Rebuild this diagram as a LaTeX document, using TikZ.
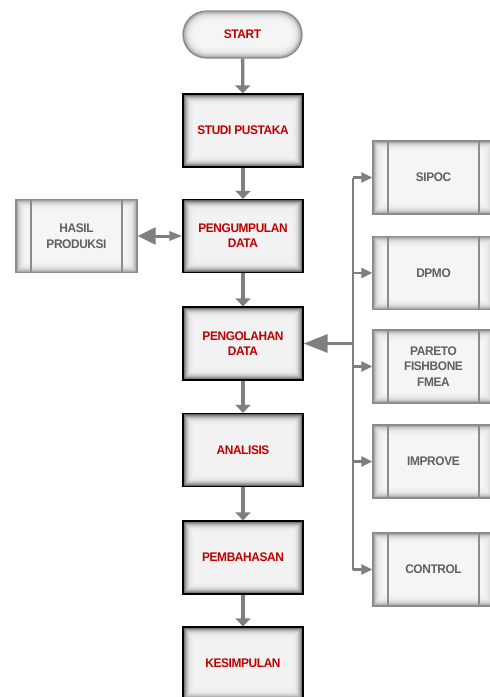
\documentclass[tikz,border=0pt]{standalone}
\usepackage{fontspec}
\newfontfamily\lab[FakeStretch=0.95,LetterSpace=-3]{Liberation Sans}
\usetikzlibrary{arrows.meta}
\definecolor{txtred}{HTML}{C00000}
\definecolor{txtgray}{HTML}{606060}
\definecolor{arrgray}{HTML}{7F7F7F}
\definecolor{sideborder}{HTML}{8C8C8C}
\tikzset{
  mainbox/.style={rectangle, draw=black, line width=1.3pt, minimum width=120pt, minimum height=73pt,
    inner sep=0pt, align=center, text=txtred, font=\lab\bfseries\fontsize{12.5}{15}\selectfont,
    path picture={
      \foreach \d/\w in {0/35,1/48,2/60,3/70,4/78,5/84,6/88,7/91,8/93,10/94.5,12/95} {
        \fill[white!\w!black, rounded corners=1pt]
          ([shift={(\d pt,\d pt)}]path picture bounding box.south west) rectangle
          ([shift={(-\d pt,-\d pt)}]path picture bounding box.north east);
      }}},
  sidebox/.style={rectangle, draw=sideborder, line width=1.3pt, minimum width=121pt, minimum height=73pt,
    inner sep=0pt, align=center, text=txtgray, font=\lab\bfseries\fontsize{12.5}{15.5}\selectfont,
    path picture={
      \foreach \d/\w in {0/60,1/70,2/77,3/83,4/87,5/90,6/92.5,8/94.5,10/96} {
        \fill[white!\w!black, rounded corners=1pt]
          ([shift={(\d pt,\d pt)}]path picture bounding box.south west) rectangle
          ([shift={(-\d pt,-\d pt)}]path picture bounding box.north east);
      }
      \draw[sideborder, line width=1.2pt]
        ([xshift=15pt]path picture bounding box.south west) -- ([xshift=15pt]path picture bounding box.north west);
      \draw[sideborder, line width=1.2pt]
        ([xshift=-15pt]path picture bounding box.south east) -- ([xshift=-15pt]path picture bounding box.north east);
    }},
  startbox/.style={rectangle, rounded corners=23.5pt, draw=sideborder, line width=1.3pt,
    minimum width=119pt, minimum height=47pt, inner sep=0pt, text=txtred,
    font=\lab\bfseries\fontsize{12.5}{15}\selectfont,
    path picture={
      \foreach \d/\w in {0/60,1/70,2/77,3/83,4/87,5/90,6/92.5,8/94.5,10/96} {
        \pgfmathsetmacro\rr{23.5-\d}
        \fill[white!\w!black, rounded corners=\rr pt]
          ([shift={(\d pt,\d pt)}]path picture bounding box.south west) rectangle
          ([shift={(-\d pt,-\d pt)}]path picture bounding box.north east);
      }}},
  mainarrow/.style={draw=arrgray, line width=3.3pt, -{Triangle[length=8pt,width=15pt]}},
  busline/.style={draw=arrgray, line width=2.4pt},
  busarrow/.style={draw=arrgray, line width=2.4pt, -{Triangle[length=11pt,width=10pt]}},
  bigarrow/.style={draw=arrgray, line width=3pt, -{Triangle[length=24pt,width=18pt]}},
  dblarrow/.style={draw=arrgray, line width=3pt, {Triangle[length=18pt,width=17pt]}-{Triangle[length=13pt,width=9pt]}},
}
\begin{document}
\begin{tikzpicture}[x=1pt,y=1pt]
\useasboundingbox (0,0) rectangle (490,-697);
\clip (0,0) rectangle (490,-697);
\fill[white] (0,0) rectangle (490,-697);

\node[startbox] (start) at (242.5,-34.5) {START};
\node[mainbox] (studi) at (243,-130.5) {STUDI PUSTAKA};
\node[mainbox] (kumpul) at (243,-236) {PENGUMPULAN\\DATA};
\node[mainbox] (olah) at (243,-343.5) {PENGOLAHAN\\DATA};
\node[mainbox] (analisis) at (243,-450) {ANALISIS};
\node[mainbox] (bahas) at (243,-557.5) {PEMBAHASAN};
\node[mainbox] (simpul) at (243,-663.5) {KESIMPULAN};

\node[sidebox] (hasil) at (76.5,-236) {HASIL\\PRODUKSI};
\node[sidebox] (sipoc) at (433.5,-177.5) {SIPOC};
\node[sidebox] (dpmo) at (433.5,-273) {DPMO};
\node[sidebox] (pareto) at (433.5,-366.5) {PARETO\\FISHBONE\\FMEA};
\node[sidebox] (improve) at (433.5,-461.5) {IMPROVE};
\node[sidebox] (control) at (433.5,-569.5) {CONTROL};

\draw[mainarrow] (start) -- (studi);
\draw[mainarrow] (studi) -- (kumpul);
\draw[mainarrow] (kumpul) -- (olah);
\draw[mainarrow] (olah) -- (analisis);
\draw[mainarrow] (analisis) -- (bahas);
\draw[mainarrow] (bahas) -- (simpul);

\draw[dblarrow] (hasil.east) -- (kumpul.west);

\coordinate (busx) at (353,0);
\draw[busline] (busx |- sipoc.west) -- (busx |- control.west);
\draw[busarrow] (busx |- sipoc.west) -- (sipoc.west);
\draw[busarrow] (busx |- dpmo.west) -- (dpmo.west);
\draw[busarrow] (busx |- pareto.west) -- (pareto.west);
\draw[busarrow] (busx |- improve.west) -- (improve.west);
\draw[busarrow] (busx |- control.west) -- (control.west);
\draw[bigarrow] (busx |- olah.east) -- (olah.east);
\end{tikzpicture}
\end{document}
